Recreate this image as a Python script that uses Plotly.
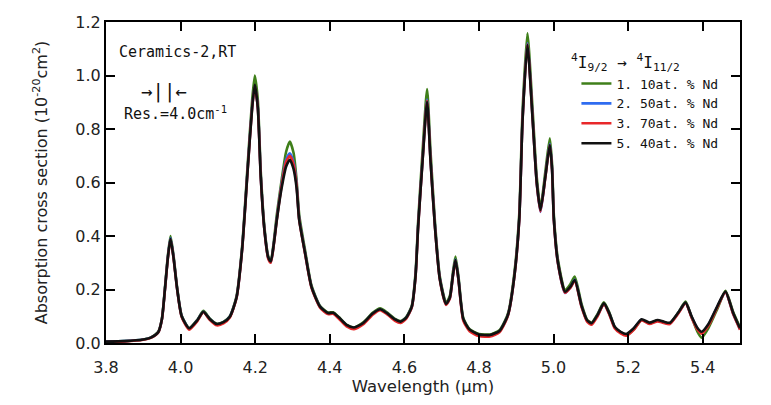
import plotly.graph_objects as go

wavelength = [3.80, 3.85, 3.90, 3.92, 3.94, 3.95, 3.958, 3.966, 3.973, 3.981, 3.991, 4.003, 4.023,
              4.045, 4.061, 4.078, 4.097, 4.115, 4.132, 4.150, 4.165, 4.180, 4.192, 4.199, 4.207,
              4.215, 4.225, 4.235, 4.242, 4.250, 4.258, 4.271, 4.283, 4.293, 4.303, 4.311, 4.318,
              4.334, 4.351, 4.374, 4.395, 4.409, 4.425, 4.445, 4.465, 4.490, 4.515, 4.535, 4.555,
              4.575, 4.590, 4.605, 4.620, 4.630, 4.637, 4.649, 4.661, 4.670, 4.682, 4.695, 4.712,
              4.722, 4.730, 4.737, 4.745, 4.758, 4.775, 4.800, 4.830, 4.855, 4.870, 4.879, 4.895,
              4.908, 4.917, 4.930, 4.944, 4.955, 4.965, 4.978, 4.990, 4.996, 5.001, 5.012, 5.031,
              5.045, 5.057, 5.075, 5.090, 5.102, 5.118, 5.135, 5.150, 5.164, 5.180, 5.196, 5.215,
              5.236, 5.257, 5.279, 5.295, 5.312, 5.335, 5.354, 5.370, 5.385, 5.397, 5.415, 5.440,
              5.461, 5.482, 5.500]

nd_540 = [0.005, 0.007, 0.013, 0.020, 0.040, 0.090, 0.200, 0.320, 0.390, 0.320, 0.200, 0.100, 0.055,
          0.085, 0.117, 0.090, 0.071, 0.078, 0.098, 0.170, 0.350, 0.650, 0.880, 0.965, 0.880,
          0.620, 0.420, 0.320, 0.305, 0.370, 0.460, 0.580, 0.660, 0.685, 0.650, 0.580, 0.460,
          0.335, 0.210, 0.136, 0.112, 0.113, 0.095, 0.068, 0.058, 0.075, 0.110, 0.126, 0.110,
          0.088, 0.080, 0.095, 0.136, 0.250, 0.435, 0.684, 0.902, 0.684, 0.435, 0.240, 0.146,
          0.170, 0.250, 0.310, 0.240, 0.090, 0.050, 0.032, 0.030, 0.045, 0.080, 0.111, 0.250,
          0.460, 0.834, 1.114, 0.834, 0.600, 0.497, 0.620, 0.740, 0.650, 0.460, 0.300, 0.192,
          0.210, 0.235, 0.140, 0.085, 0.074, 0.105, 0.148, 0.110, 0.061, 0.042, 0.034, 0.055,
          0.089, 0.076, 0.086, 0.080, 0.076, 0.115, 0.151, 0.100, 0.058, 0.042, 0.070, 0.140,
          0.192, 0.111, 0.055]

nd_110 = [0.005, 0.007, 0.013, 0.020, 0.042, 0.092, 0.205, 0.328, 0.400, 0.328, 0.205, 0.102, 0.056,
          0.087, 0.120, 0.092, 0.072, 0.079, 0.100, 0.175, 0.360, 0.670, 0.910, 1.000, 0.910,
          0.640, 0.430, 0.325, 0.308, 0.380, 0.480, 0.610, 0.715, 0.753, 0.710, 0.610, 0.480,
          0.345, 0.215, 0.138, 0.114, 0.115, 0.096, 0.068, 0.058, 0.077, 0.113, 0.130, 0.113,
          0.090, 0.082, 0.097, 0.140, 0.262, 0.455, 0.720, 0.949, 0.720, 0.455, 0.250, 0.150,
          0.176, 0.262, 0.323, 0.250, 0.094, 0.052, 0.034, 0.032, 0.048, 0.084, 0.116, 0.262,
          0.480, 0.870, 1.158, 0.870, 0.620, 0.505, 0.640, 0.765, 0.670, 0.475, 0.310, 0.197,
          0.220, 0.248, 0.146, 0.087, 0.076, 0.108, 0.152, 0.112, 0.060, 0.040, 0.030, 0.050,
          0.086, 0.074, 0.084, 0.078, 0.074, 0.115, 0.155, 0.098, 0.045, 0.020, 0.055, 0.130,
          0.195, 0.115, 0.058]

nd_250 = [0.005, 0.007, 0.013, 0.020, 0.040, 0.090, 0.200, 0.322, 0.392, 0.322, 0.200, 0.100, 0.054,
          0.085, 0.117, 0.090, 0.070, 0.077, 0.098, 0.170, 0.352, 0.655, 0.885, 0.960, 0.885,
          0.625, 0.422, 0.318, 0.302, 0.372, 0.465, 0.595, 0.685, 0.709, 0.675, 0.595, 0.465,
          0.335, 0.210, 0.135, 0.110, 0.111, 0.093, 0.066, 0.056, 0.074, 0.109, 0.125, 0.109,
          0.087, 0.079, 0.094, 0.135, 0.252, 0.440, 0.690, 0.910, 0.690, 0.440, 0.242, 0.145,
          0.168, 0.250, 0.312, 0.240, 0.088, 0.048, 0.030, 0.028, 0.043, 0.079, 0.110, 0.250,
          0.462, 0.840, 1.120, 0.840, 0.598, 0.490, 0.622, 0.745, 0.652, 0.460, 0.298, 0.187,
          0.208, 0.236, 0.138, 0.083, 0.072, 0.103, 0.146, 0.108, 0.059, 0.040, 0.031, 0.053,
          0.087, 0.073, 0.083, 0.077, 0.073, 0.113, 0.150, 0.098, 0.055, 0.038, 0.067, 0.138,
          0.190, 0.108, 0.052]

nd_370 = [0.004, 0.006, 0.012, 0.019, 0.039, 0.089, 0.198, 0.318, 0.388, 0.318, 0.198, 0.097, 0.050,
          0.082, 0.115, 0.087, 0.066, 0.073, 0.095, 0.168, 0.348, 0.650, 0.880, 0.960, 0.880,
          0.620, 0.418, 0.315, 0.300, 0.368, 0.460, 0.590, 0.678, 0.700, 0.668, 0.590, 0.460,
          0.332, 0.207, 0.132, 0.108, 0.109, 0.090, 0.062, 0.052, 0.070, 0.106, 0.123, 0.106,
          0.083, 0.075, 0.091, 0.133, 0.248, 0.434, 0.686, 0.905, 0.686, 0.434, 0.238, 0.142,
          0.166, 0.247, 0.308, 0.236, 0.084, 0.044, 0.026, 0.024, 0.040, 0.076, 0.108, 0.248,
          0.458, 0.836, 1.116, 0.836, 0.596, 0.492, 0.618, 0.740, 0.648, 0.456, 0.296, 0.188,
          0.206, 0.232, 0.135, 0.080, 0.068, 0.100, 0.145, 0.105, 0.055, 0.036, 0.027, 0.049,
          0.085, 0.071, 0.081, 0.075, 0.071, 0.111, 0.149, 0.096, 0.052, 0.035, 0.064, 0.136,
          0.190, 0.107, 0.050]

series_names = ["1. 10at. % Nd", "2. 50at. % Nd", "3. 70at. % Nd", "5. 40at. % Nd"]
series_values = [nd_110, nd_250, nd_370, nd_540]
series_colors = ["#3f7f1a", "#2f6cf0", "#e8282a", "#111111"]

x_ticks = [3.8, 4.0, 4.2, 4.4, 4.6, 4.8, 5.0, 5.2, 5.4]
y_ticks = [0.0, 0.2, 0.4, 0.6, 0.8, 1.0, 1.2]

fig = go.Figure()
for name, vals, col in zip(series_names, series_values, series_colors):
    fig.add_trace(go.Scatter(x=wavelength, y=vals, name=name, mode="lines",
                             line=dict(color=col, width=2.6, shape="spline", smoothing=0.6)))

axis_common = dict(showline=True, linecolor="black", linewidth=2, mirror="ticks",
                   ticks="inside", ticklen=9, tickwidth=1.5, tickcolor="black",
                   showgrid=False, zeroline=False, automargin=False,
                   tickfont=dict(family="DejaVu Sans", size=16, color="#222"))

fig.update_layout(
    width=771, height=405,
    margin=dict(l=98, r=39, t=14, b=70),
    paper_bgcolor="white", plot_bgcolor="white",
    showlegend=True,
    legend=dict(x=0.742, y=0.855, xanchor="left", yanchor="top",
                bgcolor="rgba(0,0,0,0)", borderwidth=0,
                font=dict(family="DejaVu Sans Mono", size=13, color="#111"),
                itemwidth=30, tracegroupgap=0),
    xaxis=dict(range=[3.8, 5.5], tickvals=x_ticks, tickformat=".1f", ticklabelstandoff=9,
               title=dict(text="Wavelength (μm)", standoff=4,
                          font=dict(family="DejaVu Sans", size=16.5, color="#222")),
               **axis_common),
    yaxis=dict(range=[0, 1.2], tickvals=y_ticks, tickformat=".1f",
               title=dict(text="Absorption cross section (10<sup>-20</sup>cm<sup>2</sup>)", standoff=24,
                          font=dict(family="DejaVu Sans", size=16, color="#222")),
               **axis_common),
)

mono = dict(family="DejaVu Sans Mono", size=15, color="#111")
fig.add_annotation(xref="paper", yref="paper", x=0.018, y=0.905, xanchor="left", yanchor="middle",
                   text="Ceramics-2,RT", showarrow=False, font=mono)
fig.add_annotation(xref="paper", yref="paper", x=0.052, y=0.785, xanchor="left", yanchor="middle",
                   text="→||←", showarrow=False,
                   font=dict(family="DejaVu Sans Mono", size=19, color="#111"))
fig.add_annotation(xref="paper", yref="paper", x=0.025, y=0.715, xanchor="left", yanchor="middle",
                   text="Res.=4.0cm<sup>-1</sup>", showarrow=False, font=mono)
fig.add_annotation(xref="paper", yref="paper", x=0.73, y=0.875, xanchor="left", yanchor="middle",
                   text="<sup>4</sup>I<sub>9/2</sub> → <sup>4</sup>I<sub>11/2</sub>", showarrow=False,
                   font=dict(family="DejaVu Sans Mono", size=16, color="#111"))

fig.write_html("out.html")
